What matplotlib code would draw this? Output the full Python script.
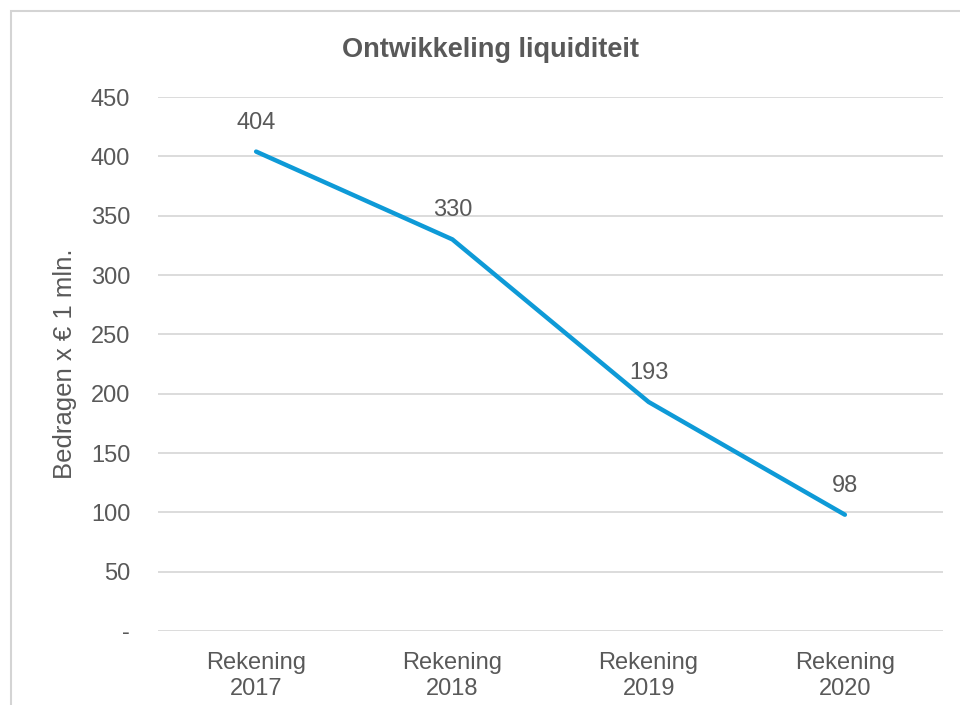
import matplotlib.pyplot as plt
from matplotlib.patches import Rectangle

categories = ["Rekening\n2017", "Rekening\n2018", "Rekening\n2019", "Rekening\n2020"]
values = [404, 330, 193, 98]
yticks = [0, 50, 100, 150, 200, 250, 300, 350, 400, 450]
ytick_labels = ["-", "50", "100", "150", "200", "250", "300", "350", "400", "450"]

plt.rcParams['font.family'] = ['Liberation Sans', 'DejaVu Sans']
text_color = "#595959"
fs = 17

fig = plt.figure(figsize=(9.6, 7.05), dpi=100)
ax = fig.add_axes([158 / 960, 1 - 631 / 705, 785 / 960, 534 / 705])

x = list(range(len(values)))
ax.plot(x, values, color="#0E9AD7", linewidth=3.2, solid_capstyle="round", zorder=3)

# Data labels above each point
for xi, v in zip(x, values):
    ax.annotate(str(v), (xi, v), xytext=(0, 13), textcoords="offset points",
                ha="center", va="bottom", fontsize=fs, color=text_color)

ax.set_xlim(-0.5, len(values) - 0.5)
ax.set_ylim(0, 450)
ax.set_yticks(yticks)
ax.set_yticklabels(ytick_labels)
ax.set_xticks(x)
ax.set_xticklabels(categories)
ax.tick_params(axis="y", length=0, pad=20, labelsize=fs, labelcolor=text_color)
ax.tick_params(axis="x", length=0, pad=15, labelsize=fs, labelcolor=text_color)
for lbl in ax.get_xticklabels():
    lbl.set_linespacing(1.25)

ax.grid(axis="y", color="#D9D9D9", linewidth=1.3)
ax.set_axisbelow(True)
for s in ax.spines.values():
    s.set_visible(False)

ax.set_ylabel("Bedragen x € 1 mln.", fontsize=18.5, color=text_color, labelpad=10)

fig.text(491 / 960, 1 - 50 / 705, "Ontwikkeling liquiditeit", ha="center", va="center",
         fontsize=19.5, fontweight="bold", color=text_color)

# Chart border (top/left visible, rest cropped)
fig.patches.append(Rectangle((11 / 960, -0.1), 1.2, 1.1 - 11 / 705,
                             transform=fig.transFigure, fill=False,
                             edgecolor="#D4D4D4", linewidth=1.5))

fig.savefig("out.png", dpi=100)
